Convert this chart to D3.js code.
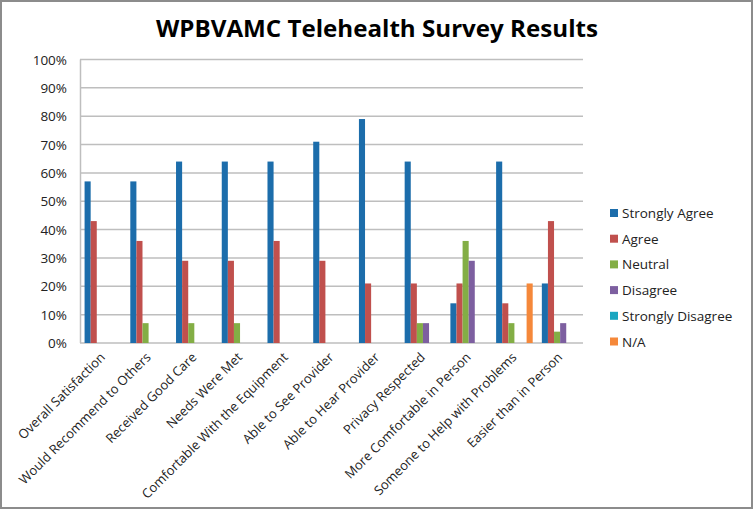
<!DOCTYPE html>
<html><head><meta charset="utf-8">
<script src="https://cdn.jsdelivr.net/npm/d3@7"></script>
<style>html,body{margin:0;padding:0;background:#fff;}svg{display:block;}</style>
</head><body>
<svg id="c" width="754" height="510"></svg>
<script>
const categories = ["Overall Satisfaction","Would Recommend to Others","Received Good Care","Needs Were Met","Comfortable With the Equipment","Able to See Provider","Able to Hear Provider","Privacy Respected","More Comfortable in Person","Someone to Help with Problems","Easier than in Person"];
const seriesNames = ["Strongly Agree","Agree","Neutral","Disagree","Strongly Disagree","N/A"];
const stronglyAgree    = [57,57,64,64,64,71,79,64,14,64,21];
const agree            = [43,36,29,29,36,29,21,21,21,14,43];
const neutral          = [0,7,7,7,0,0,0,7,36,7,4];
const disagree         = [0,0,0,0,0,0,0,7,29,0,7];
const stronglyDisagree = [0,0,0,0,0,0,0,0,0,0,0];
const na               = [0,0,0,0,0,0,0,0,0,21,0];
const yTicks = [0,10,20,30,40,50,60,70,80,90,100];
const colors = ["#1C6DAB","#C0504D","#83AE45","#7D5FA0","#1AA6C0","#F5883A"];
const seriesValues = [stronglyAgree, agree, neutral, disagree, stronglyDisagree, na];

(function(){
const svg = d3.select("#c");
const font = "'Open Sans', sans-serif";
svg.append("rect").attr("x",1).attr("y",1).attr("width",751).attr("height",507)
  .attr("fill","#fff").attr("stroke","#8c8c8c").attr("stroke-width",2);

const pLeft=80, pRight=583, pTop=59.5, pBottom=343;
const x0 = d3.scaleBand().domain(categories).range([pLeft,pRight]).paddingInner(0).paddingOuter(0);
const x1 = d3.scaleBand().domain(seriesNames).range([0,x0.bandwidth()]).paddingInner(0).paddingOuter(0.75);
const y = d3.scaleLinear().domain([0,100]).range([pBottom,pTop]);

svg.append("g").selectAll("line").data(yTicks).join("line")
  .attr("x1",pLeft).attr("x2",pRight)
  .attr("y1",d=>y(d)).attr("y2",d=>y(d))
  .attr("stroke","#BEBEBE").attr("stroke-width",1.5);
svg.append("line").attr("x1",pLeft+0.5).attr("x2",pLeft+0.5).attr("y1",pTop).attr("y2",pBottom)
  .attr("stroke","#BEBEBE").attr("stroke-width",1.5);

svg.append("g").selectAll("text").data(yTicks).join("text")
  .attr("x",67).attr("y",d=>y(d)+5).attr("text-anchor","end")
  .attr("font-family",font).attr("font-size",13.5).attr("fill","#222")
  .text(d=>d+"%");

const g = svg.append("g");
categories.forEach((c,i)=>{
  seriesNames.forEach((s,j)=>{
    const v = seriesValues[j][i];
    if(!v) return;
    g.append("rect").attr("x",x0(c)+x1(s)).attr("width",x1.bandwidth())
      .attr("y",y(v)).attr("height",y(0)-y(v)).attr("fill",colors[j]);
  });
});

svg.append("g").selectAll("text").data(categories).join("text")
  .attr("transform",d=>`translate(${x0(d)+x0.bandwidth()/2+3},${pBottom+15}) rotate(-45)`)
  .attr("text-anchor","end").attr("font-family",font).attr("font-size",13).attr("fill","#222")
  .text(d=>d);

svg.append("text").attr("x",377).attr("y",37).attr("text-anchor","middle")
  .attr("font-family",font).attr("font-weight","bold").attr("font-size",23).attr("fill","#000")
  .attr("textLength",442).attr("lengthAdjust","spacingAndGlyphs")
  .text("WPBVAMC Telehealth Survey Results");

const lg = svg.append("g");
seriesNames.forEach((s,j)=>{
  const yy = 213 + j*25.7;
  lg.append("rect").attr("x",610).attr("y",yy-4).attr("width",8).attr("height",8).attr("fill",colors[j]);
  lg.append("text").attr("x",622).attr("y",yy+5).attr("font-family",font).attr("font-size",13.5).attr("fill","#222").text(s);
});
})();
</script>
</body></html>
